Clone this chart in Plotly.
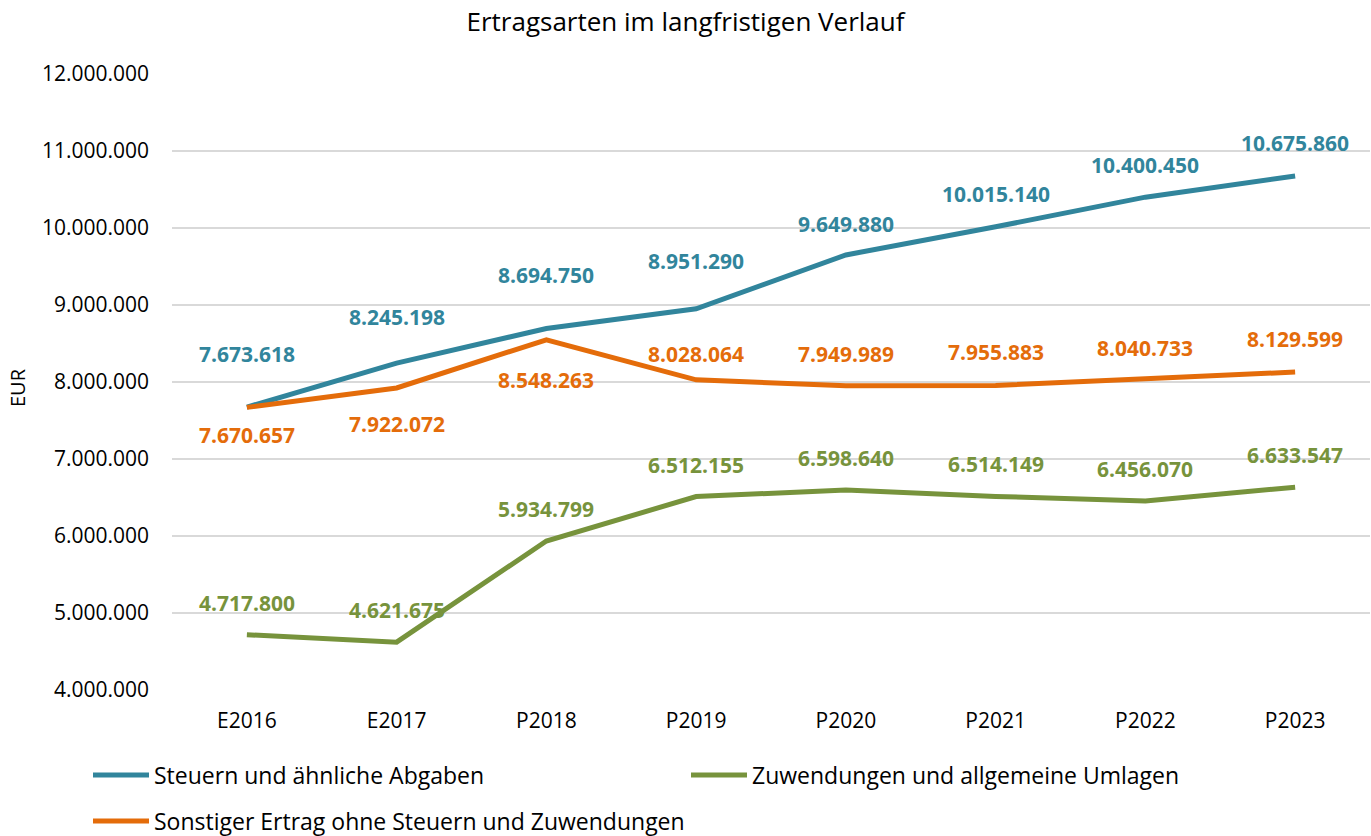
import plotly.graph_objects as go

categories = ["E2016", "E2017", "P2018", "P2019", "P2020", "P2021", "P2022", "P2023"]
steuern = [7673618, 8245198, 8694750, 8951290, 9649880, 10015140, 10400450, 10675860]
sonstiger = [7670657, 7922072, 8548263, 8028064, 7949989, 7955883, 8040733, 8129599]
zuwendungen = [4717800, 4621675, 5934799, 6512155, 6598640, 6514149, 6456070, 6633547]

name_steuern = "Steuern und ähnliche Abgaben"
name_zuw = "Zuwendungen und allgemeine Umlagen"
name_sonst = "Sonstiger Ertrag ohne Steuern und Zuwendungen"

col_blue = "#31859C"
col_orange = "#E46C0A"
col_green = "#77933C"

# label offsets in pixels (style, not data)
off_blue = [53, 46, 54, 48, 31, 33, 32, 33]
off_orange = [-28, -36, -40, 26, 32, 33, 31, 33]
off_green = [32] * 8

FONT = "Open Sans"

def fmt(v):
    return f"{v:,}".replace(",", ".")

fig = go.Figure()
fig.add_trace(go.Scatter(x=categories, y=steuern, name=name_steuern, mode="lines",
                         line=dict(color=col_blue, width=5), legend="legend", showlegend=True))
fig.add_trace(go.Scatter(x=categories, y=sonstiger, name=name_sonst, mode="lines",
                         line=dict(color=col_orange, width=5), legend="legend3", showlegend=True))
fig.add_trace(go.Scatter(x=categories, y=zuwendungen, name=name_zuw, mode="lines",
                         line=dict(color=col_green, width=5), legend="legend2", showlegend=True))

annots = []
for vals, offs, col in [(steuern, off_blue, col_blue), (sonstiger, off_orange, col_orange),
                        (zuwendungen, off_green, col_green)]:
    for c, v, o in zip(categories, vals, offs):
        annots.append(dict(x=c, y=v, text=fmt(v), showarrow=False, yshift=o,
                           xanchor="center", yanchor="middle",
                           font=dict(family=FONT, size=21, color=col, weight="bold")))

# y-axis title
annots.append(dict(text="EUR", xref="paper", yref="paper", x=0, y=0.5, xshift=-155, yshift=-6,
                   showarrow=False, textangle=-90, xanchor="center", yanchor="middle",
                   font=dict(family=FONT, size=20, color="#000000")))

def leg(xpx, ypx):
    return dict(orientation="h", xref="container", yref="container",
                x=xpx / 1371, y=1 - ypx / 836, xanchor="left", yanchor="middle",
                itemwidth=56, borderwidth=0,
                font=dict(family=FONT, size=23, color="#000000"),
                bgcolor="rgba(0,0,0,0)")

fig.update_layout(
    width=1371, height=836,
    showlegend=True,
    paper_bgcolor="white", plot_bgcolor="white",
    separators=",.",
    margin=dict(l=172, r=1, t=74, b=146),
    font=dict(family=FONT, size=21, color="#000000"),
    title=dict(text="Ertragsarten im langfristigen Verlauf", x=0.5, xanchor="center",
               y=1 - 22 / 836, yanchor="middle", yref="container",
               font=dict(family=FONT, size=26, color="#000000")),
    xaxis=dict(type="category", range=[-0.5, 7.5], showgrid=False, showline=False,
               ticks="", ticklabelstandoff=16, tickfont=dict(size=21), automargin=False),
    yaxis=dict(range=[4000000, 12000000], dtick=1000000, tickformat=",d",
               showgrid=True, gridcolor="#D9D9D9", gridwidth=1.5, zeroline=False,
               showline=False, ticks="", ticklabelstandoff=22,
               tickfont=dict(size=21), automargin=False),
    legend=leg(88, 775),
    legend2=leg(686, 775),
    legend3=leg(88, 821),
    annotations=annots,
)

fig.write_html("out.html", config={"displayModeBar": False},
               post_script="document.body.style.margin='0px';")
